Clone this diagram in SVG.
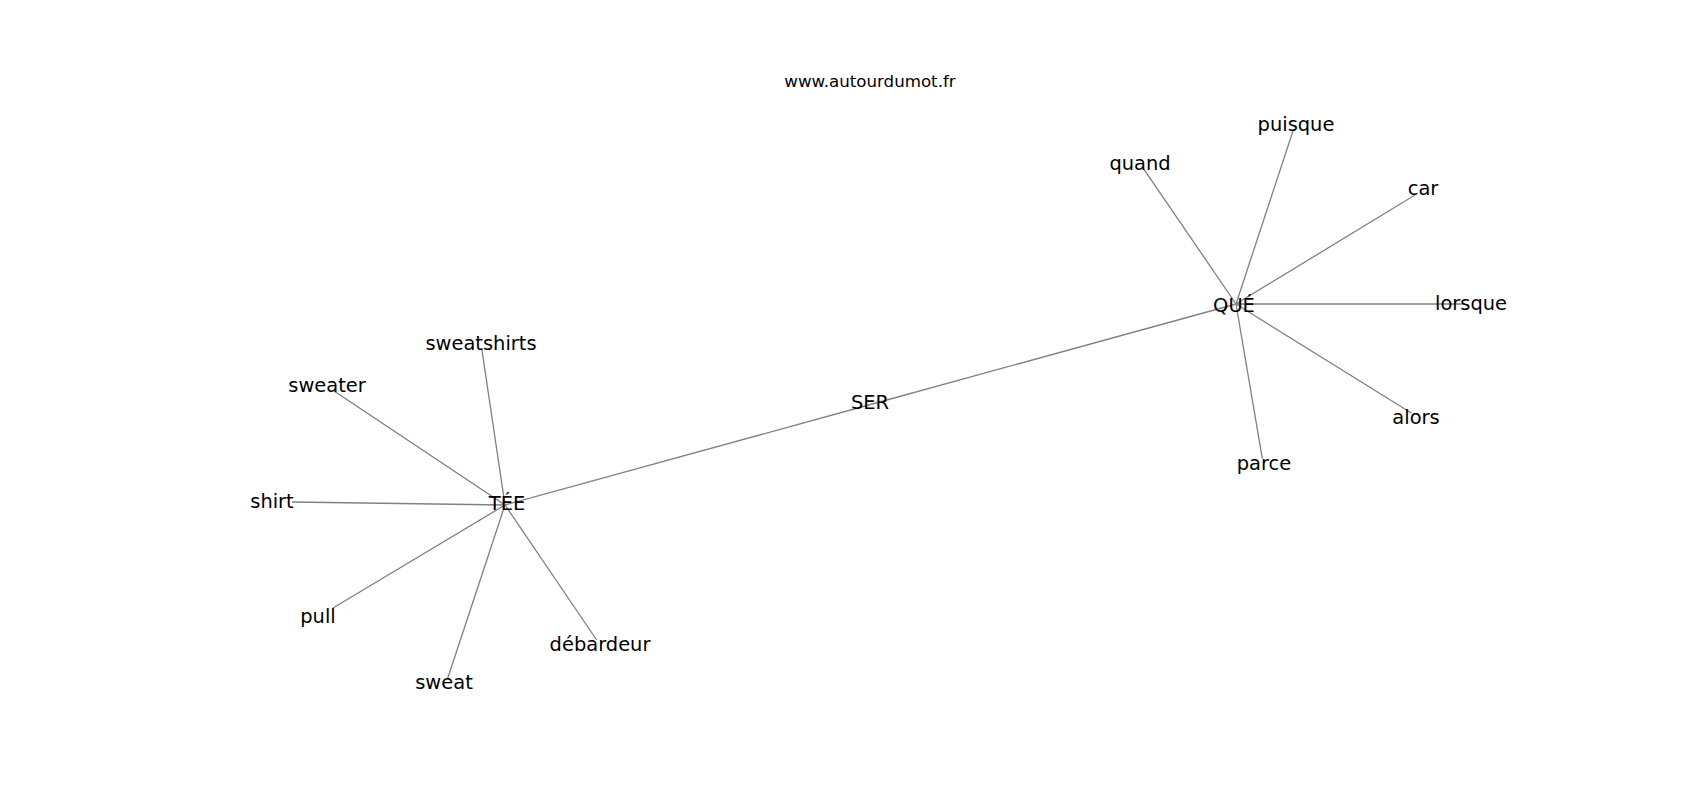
<svg xmlns="http://www.w3.org/2000/svg" width="1700" height="800" viewBox="0 0 1700 800">
<style>
.lbl{font-family:"DejaVu Sans","Liberation Sans",sans-serif;font-size:19.44px;fill:#000;text-anchor:middle}
.ttl{font-family:"DejaVu Sans","Liberation Sans",sans-serif;font-size:16.67px;fill:#000;text-anchor:middle}
.edge{stroke:#808080;stroke-width:1.3;fill:none}
</style>
<rect width="1700" height="800" fill="#fff"/>
<text class="ttl" x="870" y="87">www.autourdumot.fr</text>
<g id="connectors">
<line class="edge" x1="505" y1="505" x2="870.5" y2="404.5"/>
<line class="edge" x1="870.5" y1="404.5" x2="1236" y2="304"/>
<line class="edge" x1="505" y1="505" x2="481.7" y2="348.3"/>
<line class="edge" x1="505" y1="505" x2="334" y2="391"/>
<line class="edge" x1="505" y1="505" x2="292" y2="502"/>
<line class="edge" x1="505" y1="505" x2="333" y2="608"/>
<line class="edge" x1="505" y1="505" x2="447.7" y2="678.3"/>
<line class="edge" x1="505" y1="505" x2="596.7" y2="640"/>
<line class="edge" x1="1236" y1="304" x2="1143.3" y2="168.3"/>
<line class="edge" x1="1236" y1="304" x2="1293.3" y2="130"/>
<line class="edge" x1="1236" y1="304" x2="1415" y2="195"/>
<line class="edge" x1="1236" y1="304" x2="1465" y2="304"/>
<line class="edge" x1="1236" y1="304" x2="1411.7" y2="413.3"/>
<line class="edge" x1="1236" y1="304" x2="1262.3" y2="458.3"/>
</g>
<g id="node-tee"><text class="lbl" x="507" y="509.5">TÉE</text></g>
<g id="node-ser"><text class="lbl" x="870" y="409">SER</text></g>
<g id="node-que"><text class="lbl" x="1234" y="311.5">QUÉ</text></g>
<g id="node-sweatshirts"><text class="lbl" x="481" y="349.5">sweatshirts</text></g>
<g id="node-sweater"><text class="lbl" x="327" y="392">sweater</text></g>
<g id="node-shirt"><text class="lbl" x="272" y="508">shirt</text></g>
<g id="node-pull"><text class="lbl" x="318" y="623">pull</text></g>
<g id="node-sweat"><text class="lbl" x="444" y="689">sweat</text></g>
<g id="node-debardeur"><text class="lbl" x="600" y="651">débardeur</text></g>
<g id="node-quand"><text class="lbl" x="1140" y="170">quand</text></g>
<g id="node-puisque"><text class="lbl" x="1296" y="131">puisque</text></g>
<g id="node-car"><text class="lbl" x="1423" y="195">car</text></g>
<g id="node-lorsque"><text class="lbl" x="1471" y="310">lorsque</text></g>
<g id="node-alors"><text class="lbl" x="1416" y="424">alors</text></g>
<g id="node-parce"><text class="lbl" x="1264" y="469.5">parce</text></g>
</svg>
